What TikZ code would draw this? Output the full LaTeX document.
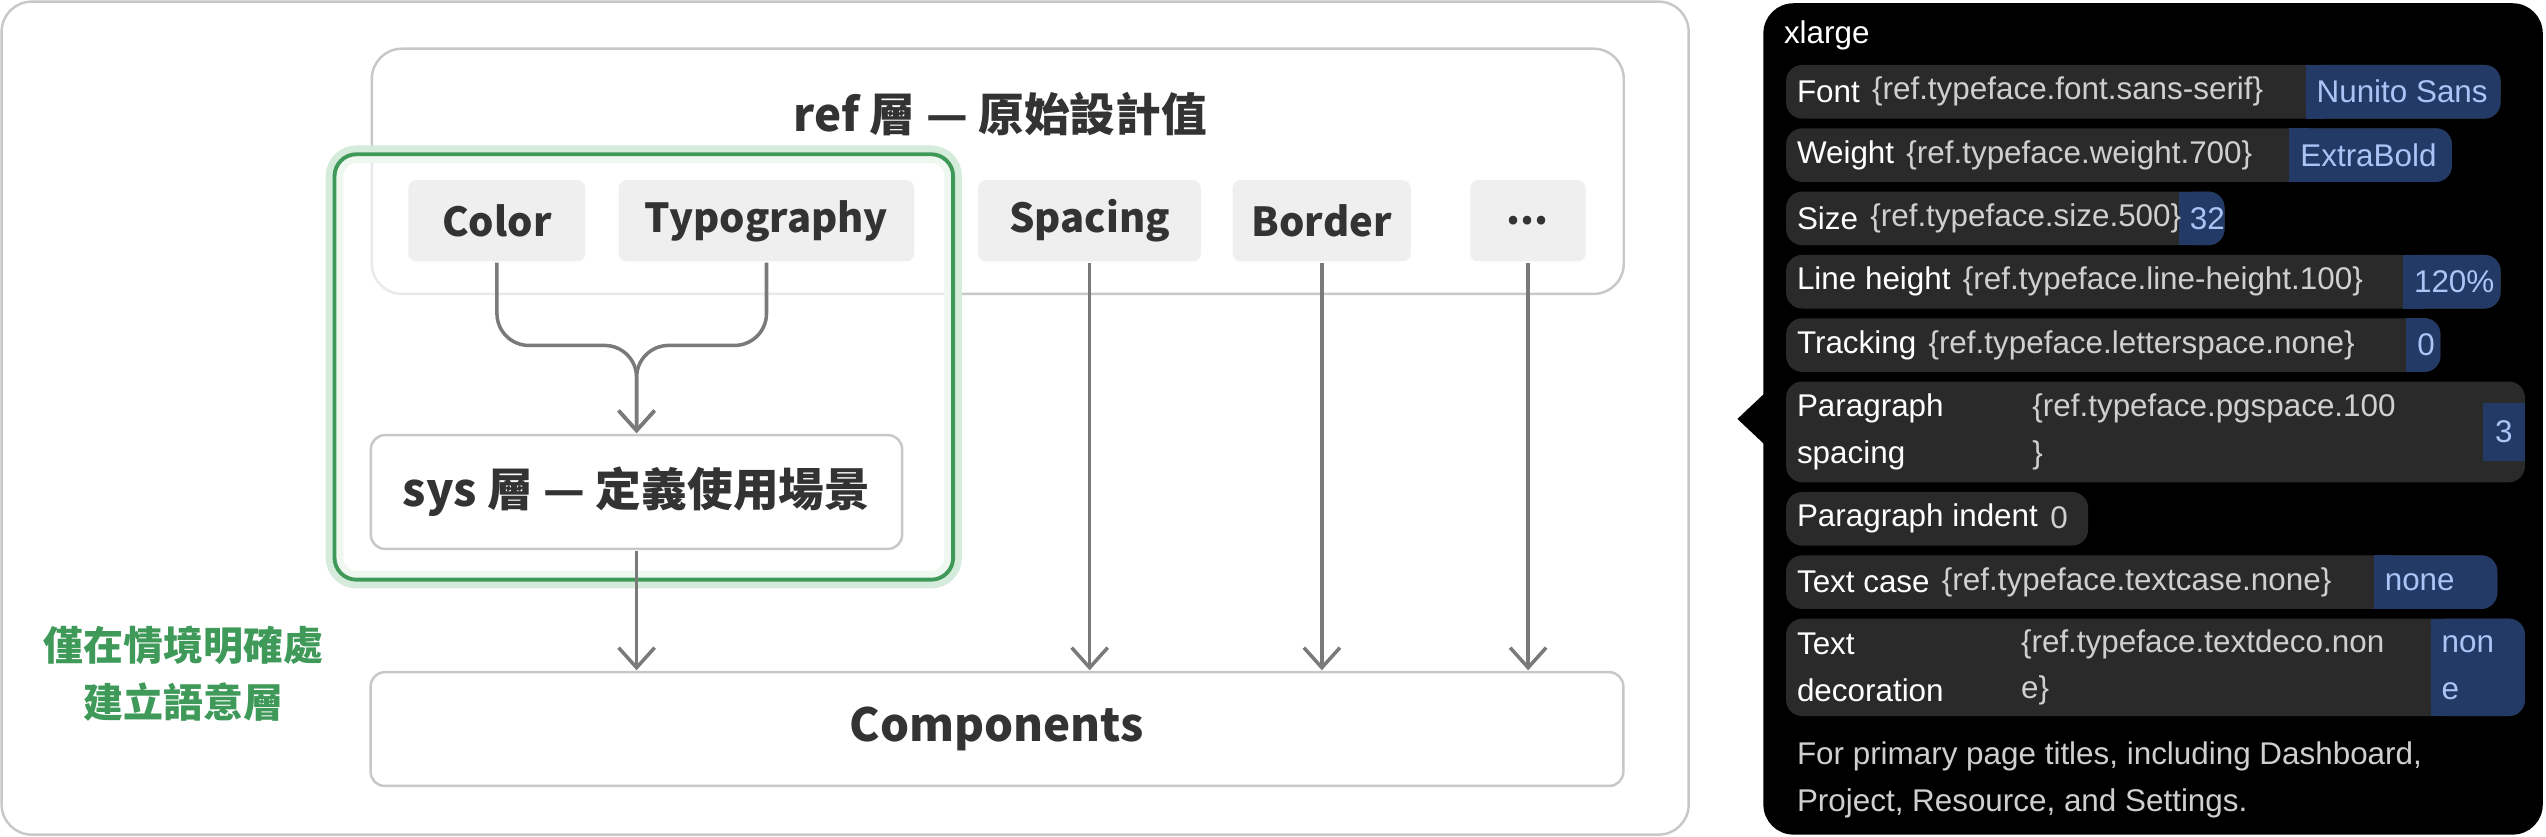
\documentclass[tikz,border=0pt]{standalone}
\usepackage{fontspec}
\setmainfont{Liberation Sans}
\newfontfamily\cjk{Noto Sans CJK TC}
\usetikzlibrary{positioning, arrows.meta}
\definecolor{edge}{HTML}{C8C8C8}
\definecolor{chipfill}{HTML}{EFEFEF}
\definecolor{flowgray}{HTML}{7A7A7A}
\definecolor{scope}{HTML}{3F9A5A}
\definecolor{glow}{HTML}{D5EBDB}
\definecolor{rowfill}{HTML}{2A2A2A}
\definecolor{valfill}{HTML}{233A66}
\definecolor{valtext}{HTML}{A9C4F5}
\definecolor{toktext}{HTML}{CFCFCF}
\newcommand{\tokrow}[7]{% y1, y2, xend, xval, label, token, value
  \fill[rowfill, rounded corners=0.16cm] (1100,#1) rectangle (#3,#2);
  \fill[valfill, rounded corners=0.16cm] (#4,#1) rectangle (#3,#2);
  \fill[valfill] (#4,#1) rectangle ({#4+12},#2);
  \node[rowtxt, anchor=west] (lab#1) at (1100,{(#1+#2)/2}) {#5};
  \node[rowtxt, text=toktext, right=-0.06cm of lab#1] {#6};
  \node[rowtxt, text=valtext, anchor=west] at (#4,{(#1+#2)/2}) {#7};
}
\begin{document}
\begin{tikzpicture}
  [x=0.01cm, y=-0.01cm, scale=1.624, every node/.style={transform shape},
   chip/.style={fill=chipfill, rounded corners=0.08cm, minimum height=0.5cm, font=\cjk\bfseries\fontsize{7}{8}\selectfont, text=black!80},
   layer/.style={draw=edge, fill=white, rounded corners=0.14cm, font=\cjk\bfseries\fontsize{8}{9}\selectfont, text=black!80},
   flow/.style={draw=flowgray, line width=1pt, -{Straight Barb[length=0.2cm,width=0.36cm]}},
   rowtxt/.style={text=white, inner sep=0.06cm, font=\fontsize{5.5}{8.2}\selectfont, align=left}]
  \useasboundingbox (0,0) rectangle (1568,515);
  % left panel
  \draw[edge, line width=0.7pt, fill=white, rounded corners=0.3cm] (1,1) rectangle (1040,514);
  \draw[edge, line width=0.7pt, rounded corners=0.3cm] (229,30) rectangle (1000,181);
  \node[font=\cjk\bfseries\fontsize{8}{9}\selectfont, text=black!80] (ref) at (616,70) {ref 層 — 原始設計值};
  \draw[glow, line width=5pt, rounded corners=0.22cm] (206,95) rectangle (587,357);
  \draw[scope, line width=1.1pt, fill=white, fill opacity=0.6, rounded corners=0.22cm] (206,95) rectangle (587,357);
  \node[chip, minimum width=1.09cm] (color) at (306,136) {Color};
  \node[chip, minimum width=1.82cm] (typo) at (472,136) {Typography};
  \node[chip, minimum width=1.37cm] (spacing) at (671,136) {Spacing};
  \node[chip, minimum width=1.07cm] (border) at (814,136) {Border};
  \node[chip, minimum width=0.71cm] (more) at (941,136) {...};
  \node[layer, line width=0.7pt, minimum width=3.27cm, minimum height=0.7cm] (sys) at (392,303) {sys 層 — 定義使用場景};
  \node[layer, line width=0.7pt, minimum width=7.71cm, minimum height=0.7cm] (comp) at (614,449) {Components};
  \node[font=\cjk\bfseries\fontsize{7}{10}\selectfont, text=scope, align=center] (note) at (113,415) {僅在情境明確處\\建立語意層};
  % connectors
  \draw[flow, rounded corners=0.32cm] (color.south) -- ++(0,51) -| (sys.north);
  \draw[flow, rounded corners=0.32cm] (typo.south) -- ++(0,51) -| (sys.north);
  \draw[flow] (sys.south) -- (sys.south |- comp.north);
  \draw[flow] (spacing.south) -- (spacing.south |- comp.north);
  \draw[flow] (border.south) -- (border.south |- comp.north);
  \draw[flow] (more.south) -- (more.south |- comp.north);
  % token panel
  \fill[black, rounded corners=0.3cm] (1086,2) rectangle (1566,514);
  \fill[black] (1087,242) -- (1070,258) -- (1087,274) -- cycle;
  \node[rowtxt, anchor=west] (title) at (1092,22) {xlarge};
  \tokrow{40}{73}{1540}{1420}{Font}{\{ref.typeface.font.sans-serif\}}{Nunito Sans}
  \tokrow{79}{112}{1510}{1410}{Weight}{\{ref.typeface.weight.700\}}{ExtraBold}
  \tokrow{118}{151}{1370}{1342}{Size}{\{ref.typeface.size.500\}}{32}
  \tokrow{157}{190}{1540}{1480}{Line height}{\{ref.typeface.line-height.100\}}{120\%}
  \tokrow{196}{229}{1503}{1482}{Tracking}{\{ref.typeface.letterspace.none\}}{0}
  \fill[rowfill, rounded corners=0.16cm] (1100,235) rectangle (1555,297);
  \fill[valfill] (1529,248) rectangle (1555,284);
  \node[rowtxt, anchor=west] (pgs) at (1100,266) {Paragraph\\spacing};
  \node[rowtxt, text=toktext, anchor=west] at (1245,266) {\{ref.typeface.pgspace.100\\\}};
  \node[rowtxt, text=valtext] at (1542,266) {3};
  \fill[rowfill, rounded corners=0.16cm] (1100,303) rectangle (1286,336);
  \node[rowtxt, anchor=west] (ind) at (1100,319) {Paragraph indent};
  \node[rowtxt, text=toktext, right=-0.06cm of ind] {0};
  \tokrow{342}{375}{1538}{1462}{Text case}{\{ref.typeface.textcase.none\}}{none}
  \fill[rowfill, rounded corners=0.16cm] (1100,381) rectangle (1555,441);
  \fill[valfill, rounded corners=0.16cm] (1497,381) rectangle (1555,441);
  \fill[valfill] (1497,381) rectangle (1509,441);
  \node[rowtxt, anchor=west] (deco) at (1100,411) {Text\\decoration};
  \node[rowtxt, text=toktext, anchor=west] at (1238,411) {\{ref.typeface.textdeco.non\\e\}};
  \node[rowtxt, text=valtext, anchor=west] at (1497,411) {non\\e};
  \node[rowtxt, text=toktext, anchor=north west] (desc) at (1100,450) {For primary page titles, including Dashboard,\\Project, Resource, and Settings.};
\end{tikzpicture}
\end{document}
